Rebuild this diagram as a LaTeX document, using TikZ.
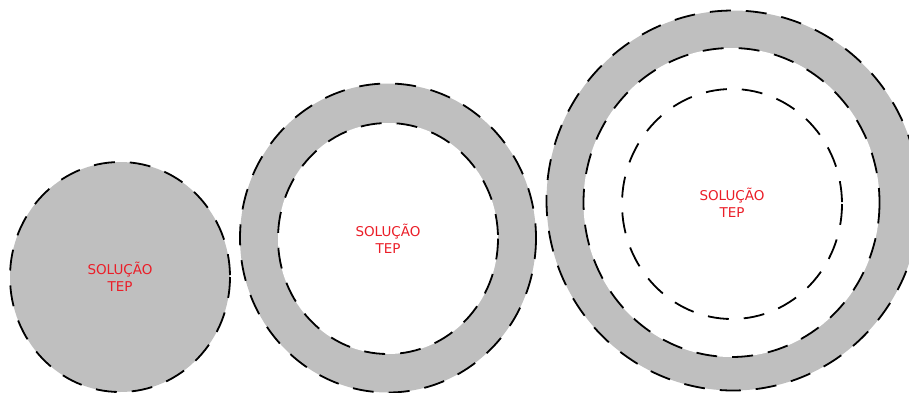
\documentclass[tikz,border=0pt]{standalone}
\usepackage{fontspec}
\setmainfont{DejaVu Sans}
\definecolor{ringgray}{RGB}{191,191,191}
\definecolor{labelred}{RGB}{235,30,40}
\begin{document}
\begin{tikzpicture}[x=1pt,y=-1pt,
  rim/.style={draw=black,line width=1.8pt,dash pattern=on 21pt off 15pt},
  lbl/.style={text=labelred,align=center,font=\fontsize{13.5}{17}\selectfont,inner sep=0pt}]
\useasboundingbox (0,0) rectangle (909,392);
\clip (0,0) rectangle (909,392);
% left
\fill[ringgray] (120,277) ellipse [x radius=110, y radius=115];
\draw[rim] (120,277) ellipse [x radius=110, y radius=115];
\node[lbl] (t1) at (120,277) {SOLUÇÃO\\TEP};
% middle
\fill[ringgray] (388,238) ellipse [x radius=148, y radius=154.5];
\fill[white] (388,238.5) ellipse [x radius=110, y radius=115.5];
\draw[rim] (388,238) ellipse [x radius=148, y radius=154.5];
\draw[rim] (388,238.5) ellipse [x radius=110, y radius=115.5];
\node[lbl] (t2) at (388,238.5) {SOLUÇÃO\\TEP};
% right
\fill[ringgray] (733,200.5) ellipse [x radius=186.5, y radius=190];
\fill[white] (731.5,202.5) ellipse [x radius=148, y radius=154.5];
\draw[rim] (733,200.5) ellipse [x radius=186.5, y radius=190];
\draw[rim] (731.5,202.5) ellipse [x radius=148, y radius=154.5];
\draw[rim] (732,204) ellipse [x radius=110, y radius=115];
\node[lbl] (t3) at (732,203) {SOLUÇÃO\\TEP};
\end{tikzpicture}
\end{document}
